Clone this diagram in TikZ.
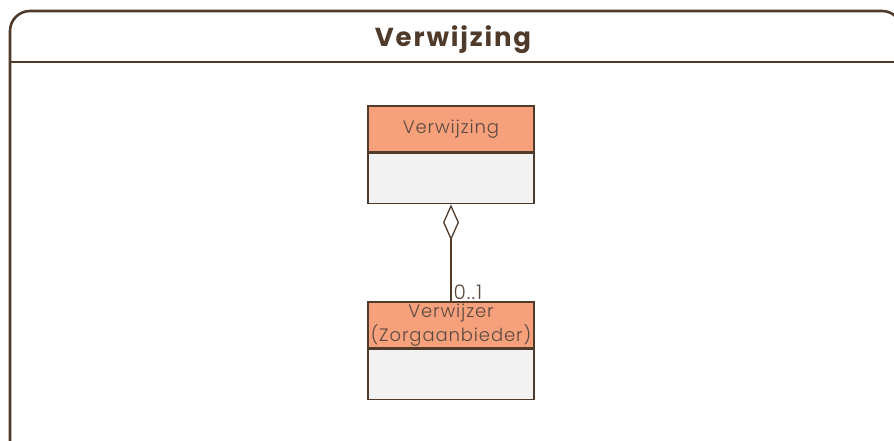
\documentclass[tikz,border=0pt]{standalone}
\usepackage{fontspec}
\setmainfont{Poppins}
\usetikzlibrary{positioning,arrows.meta}
\definecolor{bruin}{RGB}{80,58,42}
\definecolor{tekst}{RGB}{88,74,64}
\definecolor{zalm}{RGB}{246,161,123}
\definecolor{grijs}{RGB}{242,242,242}
\newfontfamily\klassefont[LetterSpace=5]{Poppins Light}
\newfontfamily\titelfont[LetterSpace=7]{Poppins}
\tikzset{
  kop/.style={draw=bruin,line width=1.6pt,fill=zalm,minimum width=166pt,minimum height=46pt,
    inner sep=0pt,text=tekst,font=\klassefont\fontsize{18}{24}\selectfont,align=center},
  romp/.style={draw=bruin,line width=1.6pt,fill=grijs,minimum width=166pt,minimum height=50pt,inner sep=0pt},
  kader/.style={draw=bruin,line width=2.6pt,rounded corners=20pt}
}
\begin{document}
\begin{tikzpicture}[x=1pt,y=-1pt]
  \useasboundingbox (0,0) rectangle (894,441);
  \clip (0,0) rectangle (894,441);
  % pakketkader
  \draw[kader] (10,460) -- (10,11) -- (902,11) -- (902,460);
  \draw[bruin,line width=2.6pt] (10,62) -- (902,62);
  \node[text=bruin,font=\titelfont\fontsize{26}{30}\bfseries\selectfont] (titel) at (453,40) {Verwijzing};
  % klassen
  \node[kop] (verwijzingKop) at (451,129) {Verwijzing};
  \node[romp,below=0pt of verwijzingKop] (verwijzingRomp) {};
  \node[kop] (verwijzerKop) at (451,325) {Verwijzer\\(Zorgaanbieder)};
  \node[romp,below=0pt of verwijzerKop] (verwijzerRomp) {};
  % aggregatie
  \draw[bruin,line width=1.3pt,{Diamond[open,length=36pt,width=16pt,line width=1.3pt]}-] (verwijzingRomp.south) -- (verwijzerKop.north)
    node[pos=1,above right=0pt and 1pt,text=tekst,font=\klassefont\fontsize{20}{22}\selectfont,inner sep=1pt] (mult) {0..1};
\end{tikzpicture}
\end{document}
